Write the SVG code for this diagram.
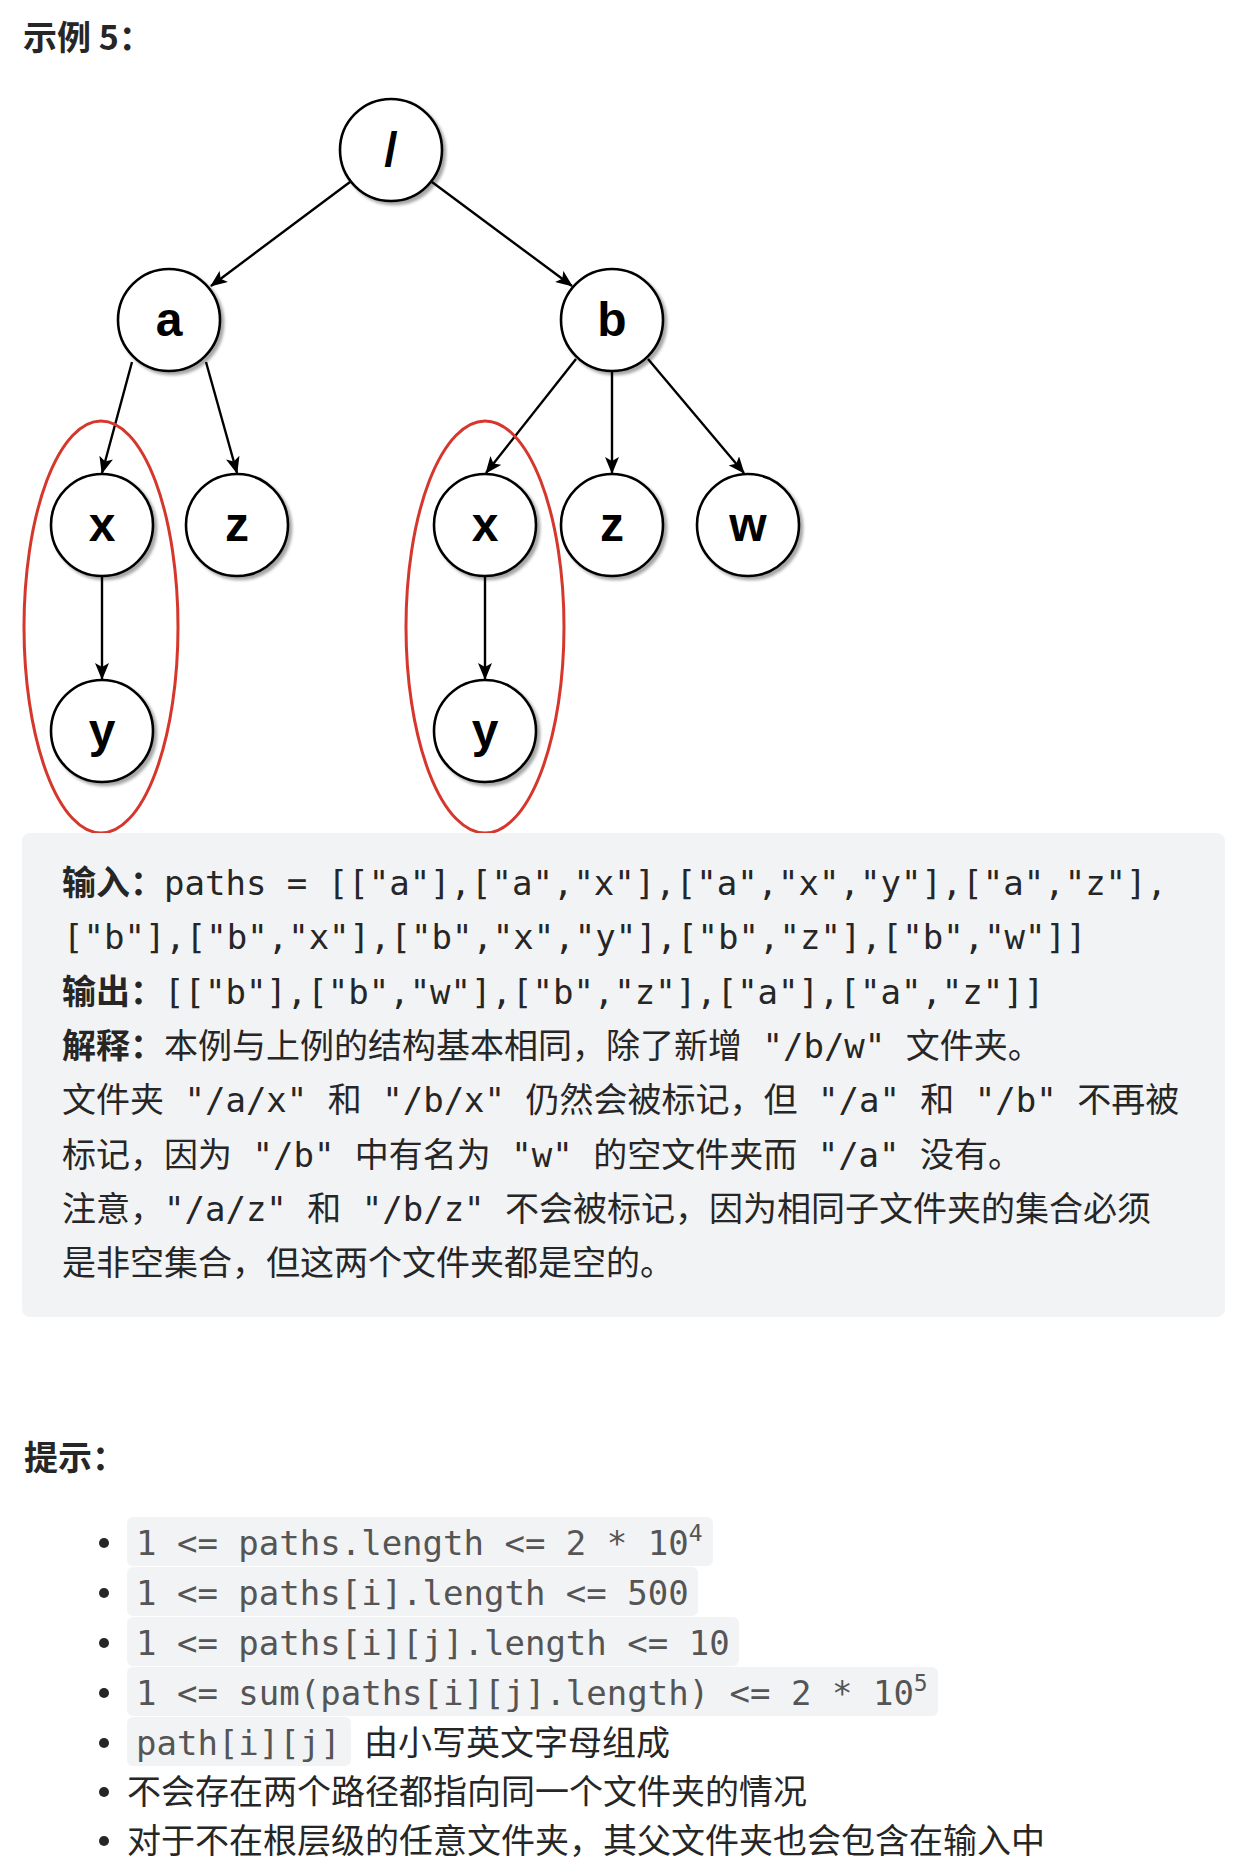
<svg xmlns="http://www.w3.org/2000/svg" width="1254" height="1864" viewBox="0 0 1254 1864">
<defs>
<filter id="sh" x="-30%" y="-30%" width="170%" height="170%"><feDropShadow dx="3" dy="3" stdDeviation="1.8" flood-color="#000" flood-opacity="0.35"/></filter>
<marker id="arr" viewBox="0 0 17 14" refX="16" refY="7" markerWidth="17" markerHeight="14" markerUnits="userSpaceOnUse" orient="auto"><path d="M0,0 L17,7 L0,14 L4,7 Z" fill="#000"/></marker>
</defs>
<style>
.node circle{fill:#fff;stroke:#000;stroke-width:2.6}
.node text{font-family:"Liberation Sans",Arial,sans-serif;font-weight:bold;font-size:48px;text-anchor:middle;fill:#000}
.edge{stroke:#000;stroke-width:2.4;fill:none}
.hl{fill:none;stroke:#d5372c;stroke-width:3}
.t{font-family:"Noto Sans CJK SC",sans-serif;font-size:34px;fill:#262626;white-space:pre}
.b{font-weight:bold}
.mono{font-family:"DejaVu Sans Mono",monospace;font-size:34px}
.hm{font-family:"DejaVu Sans Mono",monospace;font-size:34px;fill:#555;white-space:pre}
.code{fill:#f2f3f5}
.bul{fill:#262626}
</style>
<rect width="1254" height="1864" fill="#fff"/>
<text class="t b" x="23" y="50" font-size="30">示例 5：</text>

<g id="connectors">
<line class="edge" x1="350" y1="182" x2="211" y2="286" marker-end="url(#arr)"/>
<line class="edge" x1="432" y1="182" x2="572" y2="286" marker-end="url(#arr)"/>
<line class="edge" x1="132" y1="362" x2="102" y2="473" marker-end="url(#arr)"/>
<line class="edge" x1="206" y1="362" x2="237" y2="473" marker-end="url(#arr)"/>
<line class="edge" x1="102" y1="577" x2="102" y2="679" marker-end="url(#arr)"/>
<line class="edge" x1="576" y1="359" x2="486" y2="473" marker-end="url(#arr)"/>
<line class="edge" x1="612" y1="372" x2="612" y2="473" marker-end="url(#arr)"/>
<line class="edge" x1="648" y1="359" x2="744" y2="473" marker-end="url(#arr)"/>
<line class="edge" x1="485" y1="577" x2="485" y2="679" marker-end="url(#arr)"/>
</g>

<g id="node-root" class="node"><circle cx="391" cy="150" r="51" filter="url(#sh)"/><text x="391" y="166">/</text></g>
<g id="node-a" class="node"><circle cx="169" cy="320" r="51" filter="url(#sh)"/><text x="169" y="336">a</text></g>
<g id="node-b" class="node"><circle cx="612" cy="320" r="51" filter="url(#sh)"/><text x="612" y="336">b</text></g>
<g id="node-ax" class="node"><circle cx="102" cy="525" r="51" filter="url(#sh)"/><text x="102" y="541">x</text></g>
<g id="node-az" class="node"><circle cx="237" cy="525" r="51" filter="url(#sh)"/><text x="237" y="541">z</text></g>
<g id="node-axy" class="node"><circle cx="102" cy="731" r="51" filter="url(#sh)"/><text x="102" y="747">y</text></g>
<g id="node-bx" class="node"><circle cx="485" cy="525" r="51" filter="url(#sh)"/><text x="485" y="541">x</text></g>
<g id="node-bz" class="node"><circle cx="612" cy="525" r="51" filter="url(#sh)"/><text x="612" y="541">z</text></g>
<g id="node-bw" class="node"><circle cx="748" cy="525" r="51" filter="url(#sh)"/><text x="748" y="541">w</text></g>
<g id="node-bxy" class="node"><circle cx="485" cy="731" r="51" filter="url(#sh)"/><text x="485" y="747">y</text></g>

<g id="highlights">
<ellipse class="hl" cx="101" cy="627" rx="77" ry="206"/>
<ellipse class="hl" cx="485" cy="627" rx="79" ry="206"/>
</g>

<g id="example-box">
<rect x="22" y="833" width="1203" height="484" rx="8" fill="#f2f3f5"/>
<text class="t" x="62" y="895"><tspan class="b">输入：</tspan><tspan class="mono">paths = [["a"],["a","x"],["a","x","y"],["a","z"],</tspan></text>
<text class="t" x="63" y="949"><tspan class="mono">["b"],["b","x"],["b","x","y"],["b","z"],["b","w"]]</tspan></text>
<text class="t" x="62" y="1004"><tspan class="b">输出：</tspan><tspan class="mono">[["b"],["b","w"],["b","z"],["a"],["a","z"]]</tspan></text>
<text class="t" x="62" y="1058"><tspan class="b">解释：</tspan>本例与上例的结构基本相同，除了新增<tspan class="mono"> "/b/w" </tspan>文件夹。</text>
<text class="t" x="62" y="1112">文件夹<tspan class="mono"> "/a/x" </tspan>和<tspan class="mono"> "/b/x" </tspan>仍然会被标记，但<tspan class="mono"> "/a" </tspan>和<tspan class="mono"> "/b" </tspan>不再被</text>
<text class="t" x="62" y="1167">标记，因为<tspan class="mono"> "/b" </tspan>中有名为<tspan class="mono"> "w" </tspan>的空文件夹而<tspan class="mono"> "/a" </tspan>没有。</text>
<text class="t" x="62" y="1221">注意，<tspan class="mono">"/a/z" </tspan>和<tspan class="mono"> "/b/z" </tspan>不会被标记，因为相同子文件夹的集合必须</text>
<text class="t" x="62" y="1275">是非空集合，但这两个文件夹都是空的。</text>
</g>

<g id="hints">
<text class="t b" x="24" y="1470" font-size="30">提示：</text>
<rect class="code" x="127" y="1517" width="586" height="49" rx="6"/>
<rect class="code" x="127" y="1567" width="571" height="49" rx="6"/>
<rect class="code" x="127" y="1617" width="612" height="49" rx="6"/>
<rect class="code" x="127" y="1667" width="811" height="49" rx="6"/>
<rect class="code" x="127" y="1717" width="224" height="49" rx="6"/>
<circle class="bul" cx="104" cy="1543" r="5"/>
<circle class="bul" cx="104" cy="1593" r="5"/>
<circle class="bul" cx="104" cy="1643" r="5"/>
<circle class="bul" cx="104" cy="1693" r="5"/>
<circle class="bul" cx="104" cy="1743" r="5"/>
<circle class="bul" cx="104" cy="1792" r="5"/>
<circle class="bul" cx="104" cy="1841" r="5"/>
<text class="hm" x="136" y="1555">1 &lt;= paths.length &lt;= 2 * 10<tspan font-size="23" dy="-14">4</tspan></text>
<text class="hm" x="136" y="1605">1 &lt;= paths[i].length &lt;= 500</text>
<text class="hm" x="136" y="1655">1 &lt;= paths[i][j].length &lt;= 10</text>
<text class="hm" x="136" y="1705">1 &lt;= sum(paths[i][j].length) &lt;= 2 * 10<tspan font-size="23" dy="-14">5</tspan></text>
<text class="hm" x="136" y="1755">path[i][j]</text>
<text class="t" x="364" y="1755">由小写英文字母组成</text>
<text class="t" x="127" y="1804">不会存在两个路径都指向同一个文件夹的情况</text>
<text class="t" x="127" y="1853">对于不在根层级的任意文件夹，其父文件夹也会包含在输入中</text>
</g>
</svg>
